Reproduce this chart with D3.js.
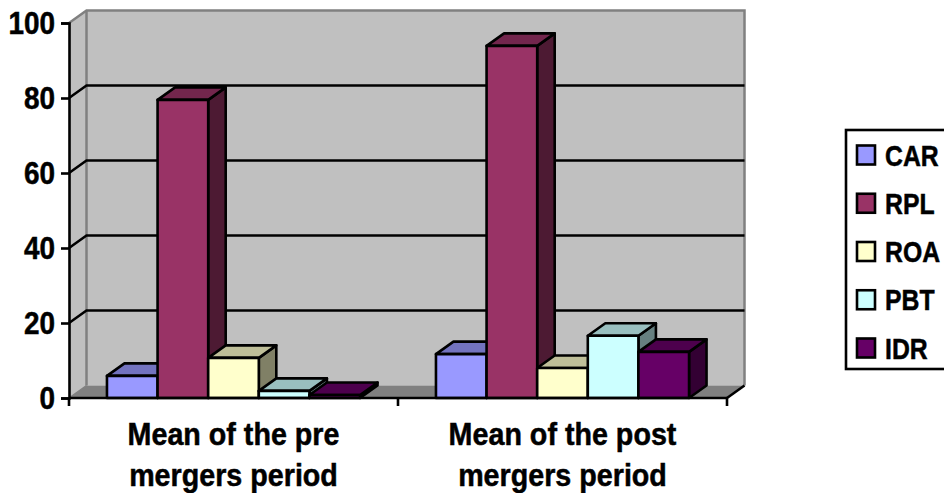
<!DOCTYPE html>
<html>
<head>
<meta charset="utf-8">
<script src="https://cdn.jsdelivr.net/npm/d3@7/dist/d3.min.js"></script>
<style>
html,body{margin:0;padding:0;background:#fff;overflow:hidden}
svg{display:block}
text{font-family:"Liberation Sans",Arial,sans-serif;font-weight:700;fill:#000;stroke:#000;stroke-width:.5px}
</style>
</head>
<body>
<svg id="chart" width="944" height="493"></svg>
<script>
const categories = [["Mean of the pre", "mergers period"], ["Mean of the post", "mergers period"]];
const seriesNames = ["CAR", "RPL", "ROA", "PBT", "IDR"];
const seriesColors = ["#9999FF", "#993366", "#FFFFCC", "#CCFFFF", "#660066"];
const preValues = [5.9, 79.5, 10.7, 1.9, 0.8];
const postValues = [11.7, 93.9, 8.0, 16.6, 12.3];
const yTicks = [0, 20, 40, 60, 80, 100];

const svg = d3.select("#chart");
const depthX = 17.5, depthY = -12.5;
const lineW = 2.6;

const x = d3.scaleBand().domain([0, 1]).range([69, 727]);
const y = d3.scaleLinear().domain([0, 100]).range([398, 23]);
const inner = d3.scaleBand().domain(seriesNames)
  .range([0, x.bandwidth()]).paddingOuter(0.75).paddingInner(0);

const pts = a => a.map(p => p.join(",")).join(" ");
const x0 = x.range()[0], x1 = x.range()[1], y0 = y(0), yTop = y(100);

// Chart box: left wall, back wall and floor
svg.append("polygon")
  .attr("points", pts([[x0, y0], [x0 + depthX, y0 + depthY], [x0 + depthX, yTop + depthY], [x0, yTop]]))
  .attr("fill", "#C0C0C0");
svg.append("rect")
  .attr("x", x0 + depthX).attr("y", yTop + depthY)
  .attr("width", x1 - x0).attr("height", y0 - yTop)
  .attr("fill", "#C0C0C0");
svg.append("polygon")
  .attr("points", pts([[x0, y0], [x1, y0], [x1 + depthX, y0 + depthY], [x0 + depthX, y0 + depthY]]))
  .attr("fill", "#808080");

// Grey outline of the back wall
svg.append("polyline")
  .attr("points", pts([
    [x0, yTop], [x0 + depthX, yTop + depthY], [x1 + depthX, yTop + depthY], [x1 + depthX, y0 + depthY]
  ]))
  .attr("fill", "none").attr("stroke", "#808080").attr("stroke-width", 2.5);
svg.append("line")
  .attr("x1", x0 + depthX).attr("x2", x0 + depthX)
  .attr("y1", yTop + depthY).attr("y2", y0 + depthY)
  .attr("stroke", "#808080").attr("stroke-width", 2.5);
svg.append("line")
  .attr("x1", x0).attr("y1", y0)
  .attr("x2", x0 + depthX).attr("y2", y0 + depthY)
  .attr("stroke", "#808080").attr("stroke-width", 1.5);

// Gridlines wrap from the left wall across the back wall
svg.append("g").selectAll("polyline")
  .data(yTicks.filter(t => t > 0 && t < 100))
  .join("polyline")
  .attr("points", t => pts([[x0, y(t)], [x0 + depthX, y(t) + depthY], [x1 + depthX, y(t) + depthY]]))
  .attr("fill", "none").attr("stroke", "#000").attr("stroke-width", lineW);

// Bars are painted left to right so each one overlaps its left neighbour
const shade = (c, k) => {
  const q = d3.rgb(c);
  return d3.rgb(q.r * k, q.g * k, q.b * k).formatHex();
};
const barLayer = svg.append("g")
  .attr("stroke", "#000").attr("stroke-width", lineW).attr("stroke-linejoin", "round");

[preValues, postValues].forEach((vals, g) => {
  vals.forEach((v, i) => {
    const name = seriesNames[i], col = seriesColors[i];
    const l = x(g) + inner(name), r = l + inner.bandwidth();
    const t = y(v), b = y(0);
    barLayer.append("polygon")
      .attr("points", pts([[r, b], [r + depthX, b + depthY], [r + depthX, t + depthY], [r, t]]))
      .attr("fill", shade(col, 0.5));
    barLayer.append("polygon")
      .attr("points", pts([[l, t], [l + depthX, t + depthY], [r + depthX, t + depthY], [r, t]]))
      .attr("fill", shade(col, 0.75));
    barLayer.append("rect")
      .attr("x", l).attr("y", t).attr("width", r - l).attr("height", b - t)
      .attr("fill", col);
  });
});

// Value axis on the front left edge
const yAxis = d3.axisLeft(y).tickValues(yTicks).tickSize(8).tickPadding(0).tickFormat(d3.format("d"));
const yG = svg.append("g").attr("transform", `translate(${x0},0)`).call(yAxis);
yG.select(".domain").attr("stroke", "#000").attr("stroke-width", lineW);
yG.selectAll(".tick line").attr("stroke", "#000").attr("stroke-width", lineW);
yG.selectAll(".tick text").remove();
yG.selectAll(".tick").append("text")
  .attr("text-anchor", "end")
  .attr("transform", "translate(-14,10.5) scale(0.9,1)")
  .attr("font-size", 31)
  .text(d => d);

// Category axis on the front bottom edge
svg.append("line").attr("x1", x0).attr("x2", x1).attr("y1", y0).attr("y2", y0)
  .attr("stroke", "#000").attr("stroke-width", lineW);
svg.append("g").selectAll("line").data([x0, x(1), x1]).join("line")
  .attr("x1", d => d).attr("x2", d => d).attr("y1", y0).attr("y2", y0 + 8)
  .attr("stroke", "#000").attr("stroke-width", lineW);
svg.append("line")
  .attr("x1", x1).attr("y1", y0).attr("x2", x1 + depthX).attr("y2", y0 + depthY)
  .attr("stroke", "#000").attr("stroke-width", lineW);

const catLabels = svg.append("g").selectAll("g").data(categories).join("g");
catLabels.each(function (lines, g) {
  d3.select(this).selectAll("text").data(lines).join("text")
    .attr("text-anchor", "middle")
    .attr("transform", (d, i) => `translate(${x(g) + x.bandwidth() / 2},${445 + i * 41}) scale(0.925,1)`)
    .attr("font-size", 31)
    .text(d => d);
});

// Legend box, clipped by the right edge of the window
const legend = svg.append("g");
legend.append("rect")
  .attr("x", 846).attr("y", 130).attr("width", 110).attr("height", 239)
  .attr("fill", "#fff").attr("stroke", "#000").attr("stroke-width", lineW);
const legendY = d3.scalePoint().domain(seriesNames).range([155, 348]);
const rows = legend.selectAll("g").data(seriesNames).join("g")
  .attr("transform", d => `translate(0,${legendY(d)})`);
rows.append("rect")
  .attr("x", 857).attr("y", -9.5).attr("width", 18).attr("height", 19)
  .attr("fill", (d, i) => seriesColors[i])
  .attr("stroke", "#000").attr("stroke-width", lineW);
rows.append("text")
  .attr("transform", "translate(885,10.5) scale(0.84,1)")
  .attr("font-size", 29.5)
  .text(d => d);
</script>
</body>
</html>
